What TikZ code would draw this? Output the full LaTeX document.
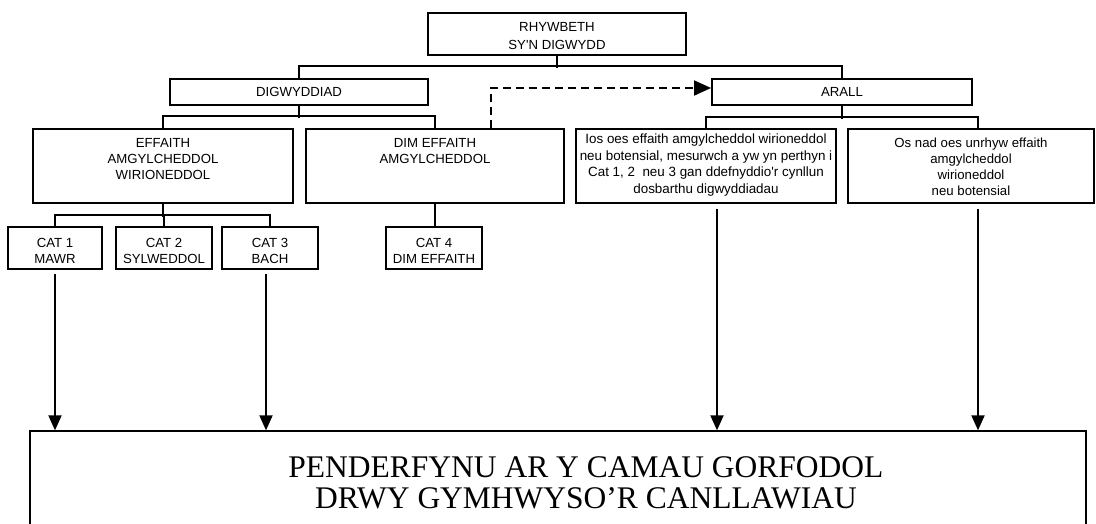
\documentclass[tikz,border=0pt]{standalone}
\usepackage{fontspec}
\newfontfamily\arialfont{Liberation Sans}
\newfontfamily\timesfont{Liberation Serif}
\usepackage{tikz}
\usetikzlibrary{arrows.meta}
\tikzset{
  box/.style={draw, line width=1.9pt, inner sep=0pt, align=center, font=\arialfont\fontsize{13.2}{16}\selectfont},
  txt/.style={inner sep=0pt, anchor=north, align=center, font=\arialfont\fontsize{13.2}{16}\selectfont},
  link/.style={line width=1.9pt},
  arr/.style={line width=1.9pt, -{Triangle[length=15pt,width=13pt]}},
  dashlink/.style={line width=1.9pt, dash pattern=on 8pt off 5pt, -{Triangle[length=17pt,width=15pt]}}
}

\begin{document}
\begin{tikzpicture}[x=1pt,y=-1pt]
  \useasboundingbox (0,0) rectangle (1096,523);

  % top levels
  \node[box, minimum width=258pt, minimum height=42pt] (top) at (557,34) {};
  \node[txt, font=\arialfont\fontsize{13.2}{17.5}\selectfont] (top-t) at (557,22.5) {RHYWBETH\\SY'N DIGWYDD};
  \node[box, minimum width=258pt, minimum height=26pt] (dig) at (299,92) {DIGWYDDIAD};
  \node[box, minimum width=260pt, minimum height=26pt] (arall) at (842,92) {ARALL};

  \node[box, minimum width=260pt, minimum height=74pt] (effaith) at (163,166) {};
  \node[box, minimum width=258pt, minimum height=74pt] (dim) at (435,166) {};
  \node[box, minimum width=260pt, minimum height=74pt] (ios) at (706,166) {};
  \node[box, minimum width=246pt, minimum height=74pt] (osnad) at (971,166) {};
  \node[txt] (effaith-t) at (163,138.5) {EFFAITH\\AMGYLCHEDDOL\\WIRIONEDDOL};
  \node[txt] (dim-t) at (435,138.5) {DIM EFFAITH\\AMGYLCHEDDOL};
  \node[txt, font=\arialfont\fontsize{13.4}{16.7}\selectfont] (ios-t) at (706,133.5) {Ios oes effaith amgylcheddol wirioneddol\\neu botensial, mesurwch a yw yn perthyn i\\Cat 1, 2~ neu 3 gan ddefnyddio'r cynllun\\dosbarthu digwyddiadau};
  \node[txt] (osnad-t) at (971,137.5) {Os nad oes unrhyw effaith\\amgylcheddol\\wirioneddol\\neu botensial};

  % categories
  \node[box, minimum width=94pt, minimum height=42pt] (cat1) at (55,248) {};
  \node[box, minimum width=96pt, minimum height=42pt] (cat2) at (164,248) {};
  \node[box, minimum width=96pt, minimum height=42pt] (cat3) at (270,248) {};
  \node[box, minimum width=96pt, minimum height=42pt] (cat4) at (434,248) {};
  \node[txt] (cat1-t) at (55,238.5) {CAT 1\\MAWR};
  \node[txt] (cat2-t) at (164,238.5) {CAT 2\\SYLWEDDOL};
  \node[txt] (cat3-t) at (270,238.5) {CAT 3\\BACH};
  \node[txt] (cat4-t) at (434,238.5) {CAT 4\\DIM EFFAITH};

  \node[box, line width=1.3pt, minimum width=1056pt, minimum height=110pt] (final) at (558,486) {};
  \node[txt, font=\timesfont\fontsize{31.5}{31}\selectfont] (final-t) at (586,456) {PENDERFYNU AR Y CAMAU GORFODOL\\DRWY GYMHWYSO’R CANLLAWIAU};

  % tree lines
  \draw[link] (top.south) -- ++(0,12);
  \draw[link] (dig.north) -- ++(0,-12) -| (arall.north);
  \draw[link] (dig.south) -- ++(0,12);
  \draw[link] (effaith.north) -- ++(0,-12) -| (dim.north);
  \draw[link] (arall.south) -- ++(0,13);
  \draw[link] (ios.north) -- ++(0,-11) -| ([xshift=7pt]osnad.north);
  \draw[link] (effaith.south) -- ++(0,13);
  \draw[link] (cat1.north) -- ++(0,-11) -| (cat3.north);
  \draw[link] (cat2.north) -- ++(0,-11);
  \draw[link] (dim.south) -- (dim.south |- cat4.north);

  \draw[dashlink] ([xshift=56pt]dim.north) |- ([yshift=4pt]arall.west);

  % down to the final box
  \draw[arr] ([yshift=-4pt]cat1.south) coordinate (c1) -- (c1 |- final.north);
  \draw[arr] ([xshift=-4pt,yshift=-4pt]cat3.south) coordinate (c3) -- (c3 |- final.north);
  \draw[arr] ([xshift=11pt,yshift=-5pt]ios.south) coordinate (i1) -- (i1 |- final.north);
  \draw[arr] ([xshift=7pt,yshift=-5pt]osnad.south) coordinate (o1) -- (o1 |- final.north);
\end{tikzpicture}
\end{document}
